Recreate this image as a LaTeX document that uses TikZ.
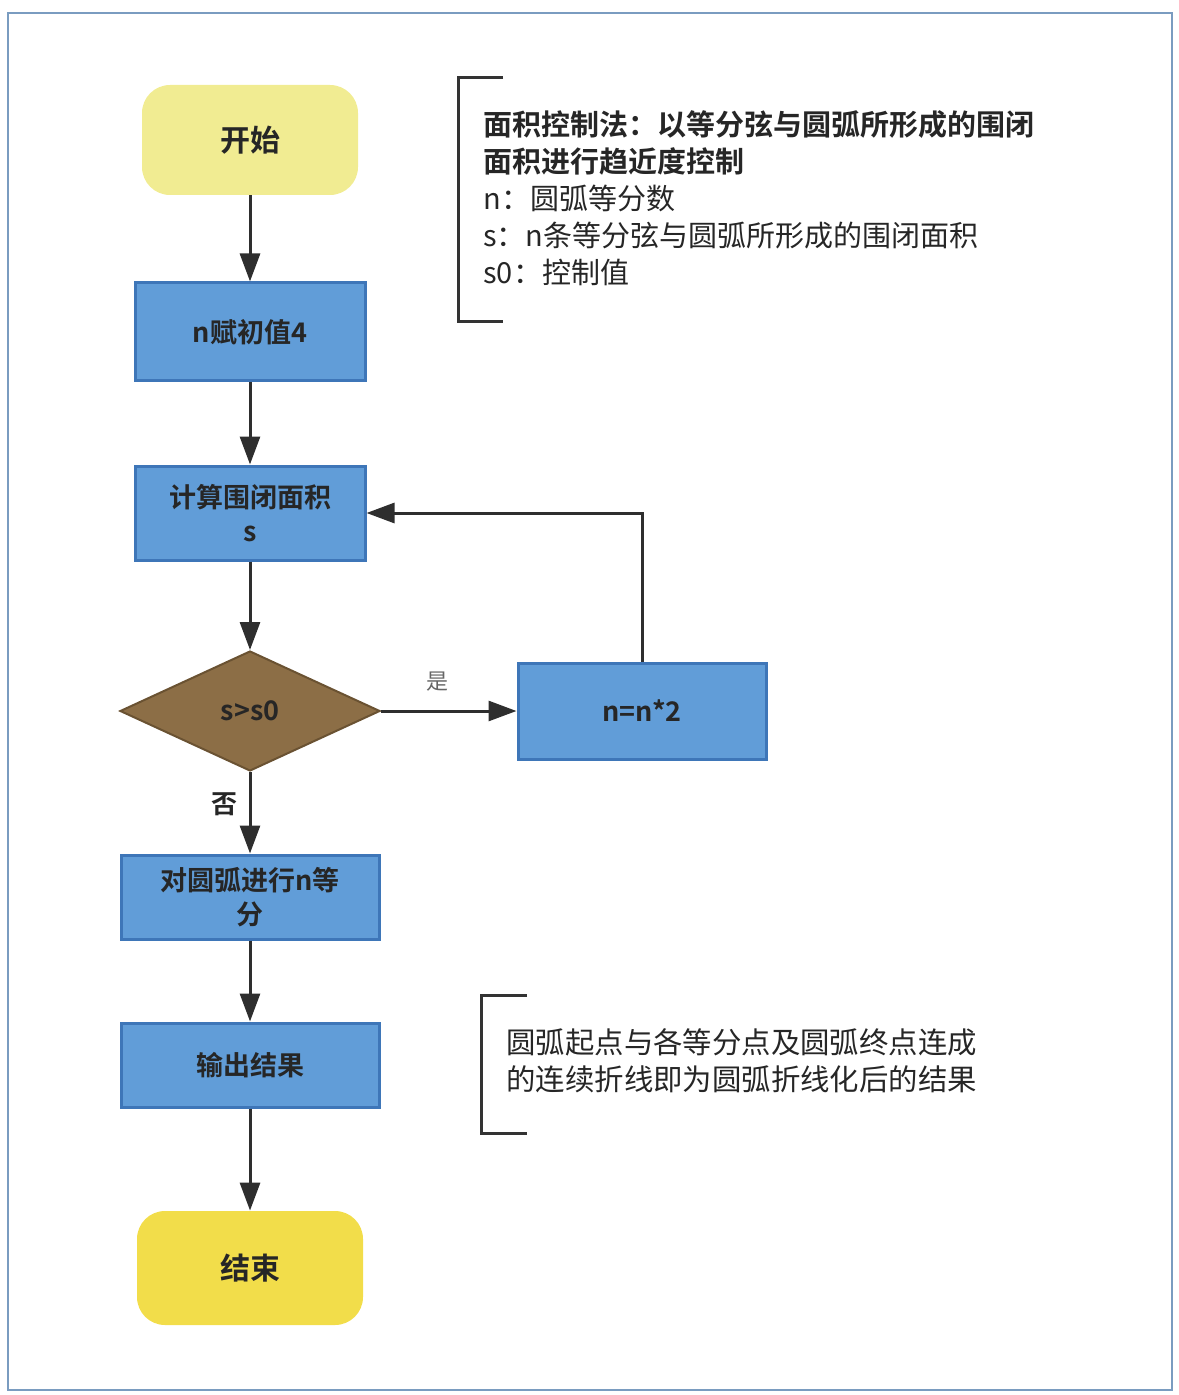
\documentclass[tikz,border=0pt]{standalone}
\usepackage{fontspec}
\setmainfont{Noto Sans CJK SC}[BoldFont={Noto Sans CJK SC Bold}]
\usetikzlibrary{shapes.geometric,arrows.meta}
\definecolor{boxblue}{HTML}{619DD8}
\definecolor{boxedge}{HTML}{3E76B8}
\definecolor{diafill}{HTML}{8C6E46}
\definecolor{diaedge}{HTML}{6A5232}
\definecolor{startyellow}{HTML}{F1EC92}
\definecolor{endyellow}{HTML}{F2DD4A}
\definecolor{linegray}{HTML}{2E2E2E}
\definecolor{framecol}{HTML}{7A9CC0}
\tikzset{
  procbox/.style={draw=boxedge, line width=1.5pt, fill=boxblue, minimum width=115pt, minimum height=49pt, inner sep=2pt, align=center, font=\fontsize{13.5pt}{17pt}\selectfont\bfseries, text=black!85},
  termbox/.style={rounded corners=14pt, minimum width=108pt, minimum height=55pt, font=\fontsize{15pt}{18pt}\selectfont\bfseries, text=black!85},
  decbox/.style={diamond, draw=diaedge, line width=1pt, fill=diafill, minimum width=130pt, minimum height=60pt, inner sep=0pt, font=\fontsize{13.5pt}{16pt}\selectfont\bfseries, text=black!85},
  arr/.style={draw=linegray, line width=1.5pt, -{Triangle[length=14pt,width=10pt]}},
  note/.style={align=left, anchor=north west, inner sep=0pt, font=\fontsize{14.5pt}{18.5pt}\selectfont, text=black!85},
  bracket/.style={draw=black!80, line width=1.5pt}
}
\begin{document}
\begin{tikzpicture}[x=0.5pt,y=-0.5pt]
\useasboundingbox (0,0) rectangle (1178,1395);
\draw[framecol, line width=0.8pt] (8,13) rectangle (1172,1390);

\node[termbox, fill=startyellow] (start) at (250,140) {开始};
\node[procbox] (init) at (250,332) {n赋初值4};
\node[procbox, minimum height=47pt] (calc) at (250,513) {计算围闭面积\\s};
\node[decbox] (dec) at (250,711) {s>s0};
\node[procbox, minimum width=124pt, minimum height=48pt] (dbl) at (642,711) {n=n*2};
\node[procbox, minimum width=129pt, minimum height=42pt] (div) at (250,897) {对圆弧进行n等\\分};
\node[procbox, minimum width=129pt, minimum height=42pt] (out) at (250,1065) {输出结果};
\node[termbox, fill=endyellow, minimum width=113pt, minimum height=57pt] (end) at (250,1268) {结束};

\draw[arr] (start) -- (init);
\draw[arr] (init) -- (calc);
\draw[arr] (calc) -- (dec);
\draw[arr] (dec.east) -- node[above=6pt, pos=0.42, font=\fontsize{11pt}{13pt}\selectfont, text=black!60] (yes) {是} (dbl.west);
\draw[arr] (dbl.north) |- (calc.east);
\draw[arr] (dec.south) -- node[left=2pt, pos=0.4, font=\fontsize{13pt}{15pt}\selectfont\bfseries, text=black!85] (no) {否} (div.north);
\draw[arr] (div) -- (out);
\draw[arr] (out) -- (end);

% annotation 1
\coordinate (b1a) at (503,78);
\coordinate (b1b) at (503,322);
\draw[bracket] (b1a) -- (458,78) -- (458,322) -- (b1b);
\node[note] (note1) at (483,110) {{\bfseries 面积控制法：以等分弦与圆弧所形成的围闭}\\{\bfseries 面积进行趋近度控制}\\n：圆弧等分数\\s：n条等分弦与圆弧所形成的围闭面积\\s0：控制值};

% annotation 2
\coordinate (b2a) at (527,995);
\coordinate (b2b) at (527,1133);
\draw[bracket] (b2a) -- (481,995) -- (481,1133) -- (b2b);
\node[note, font=\fontsize{14.7pt}{18.5pt}\selectfont] (note2) at (506,1028) {圆弧起点与各等分点及圆弧终点连成\\的连续折线即为圆弧折线化后的结果};
\end{tikzpicture}
\end{document}
